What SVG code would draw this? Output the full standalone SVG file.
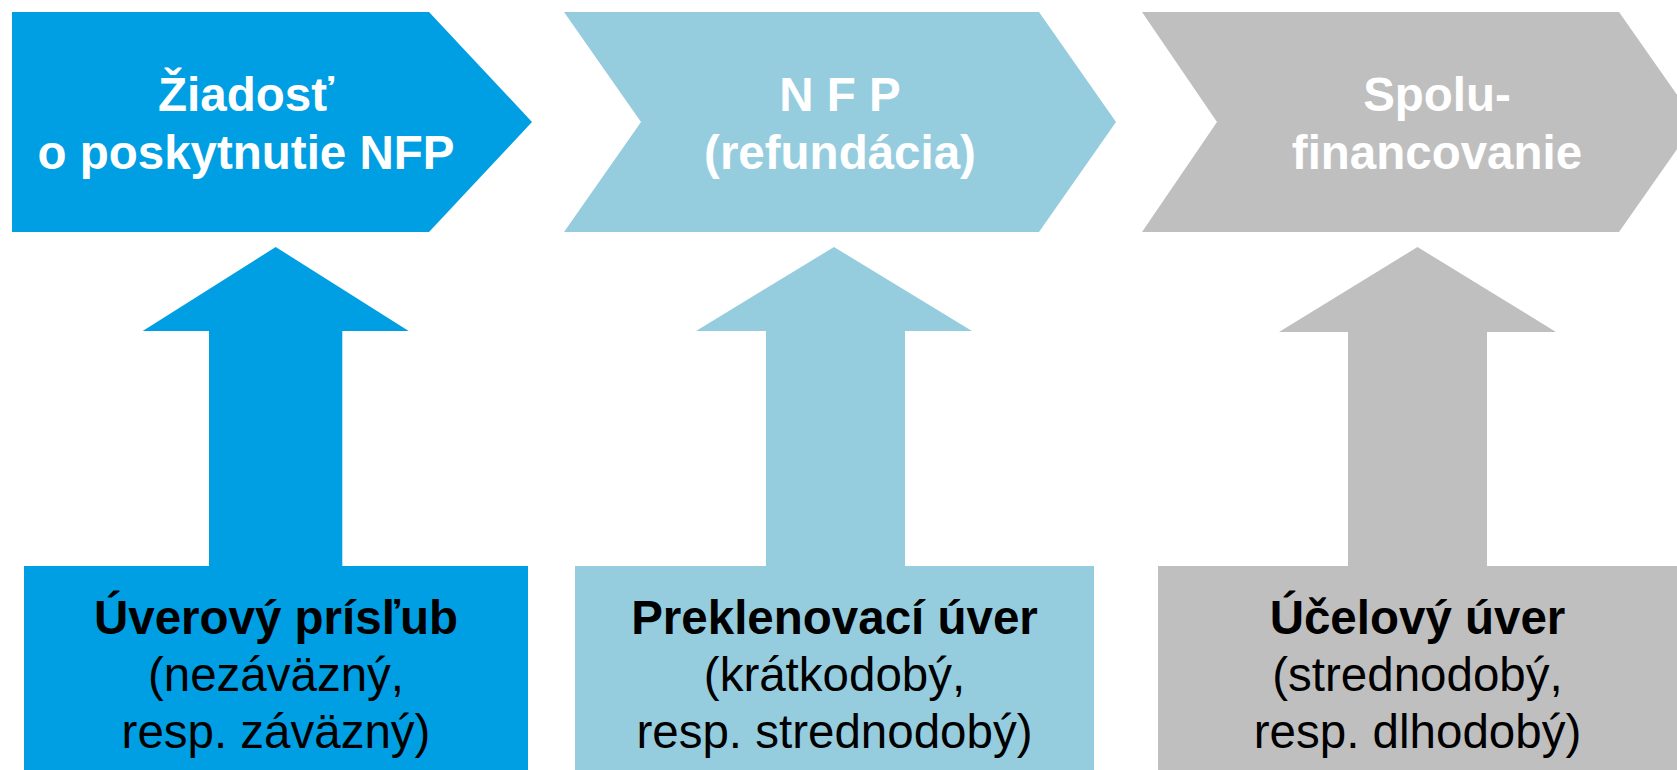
<svg xmlns="http://www.w3.org/2000/svg" width="1677" height="770" viewBox="0 0 1677 770">
<style>
  .t { font-family: "Liberation Sans", Arial, sans-serif; text-anchor: middle; }
  .head { font-size: 47.5px; font-weight: bold; fill: #FFFFFF; }
  .b { font-size: 47.5px; font-weight: bold; fill: #000000; }
  .r { font-size: 47.5px; fill: #000000; }
  .c1 { fill: #009FE3; }
  .c2 { fill: #95CDDF; }
  .c3 { fill: #BFBFBF; }
</style>
<rect x="0" y="0" width="1677" height="770" fill="#FFFFFF"/>

<g id="step1">
  <polygon class="c1" points="12,12 429,12 532,122 429,232 12,232"/>
  <text class="t head" x="246" y="111">Žiadosť</text>
  <text class="t head" x="246" y="169">o poskytnutie NFP</text>
</g>
<g id="step2">
  <polygon class="c2" points="564,12 1039,12 1116,122 1039,232 564,232 641,122"/>
  <text class="t head" x="840" y="111">N F P</text>
  <text class="t head" x="840" y="169">(refundácia)</text>
</g>
<g id="step3">
  <polygon class="c3" points="1142,12 1619,12 1696,122 1619,232 1142,232 1217,122"/>
  <text class="t head" x="1437" y="111">Spolu-</text>
  <text class="t head" x="1437" y="169">financovanie</text>
</g>

<g id="connectors">
  <polygon class="c1" points="275.7,247 408.7,331 342.3,331 342.3,567 209,567 209,331 142.7,331"/>
  <polygon class="c2" points="834,247 972,331 905,331 905,567 766,567 766,331 696,331"/>
  <polygon class="c3" points="1417.5,247 1556,332 1487,332 1487,567 1348,567 1348,332 1279,332"/>
</g>

<g id="loan1">
  <rect class="c1" x="24" y="566" width="504" height="204"/>
  <text class="t b" x="276" y="634">Úverový prísľub</text>
  <text class="t r" x="276" y="691">(nezáväzný,</text>
  <text class="t r" x="276" y="748">resp. záväzný)</text>
</g>
<g id="loan2">
  <rect class="c2" x="575" y="566" width="519" height="204"/>
  <text class="t b" x="834.5" y="634">Preklenovací úver</text>
  <text class="t r" x="834.5" y="691">(krátkodobý,</text>
  <text class="t r" x="834.5" y="748">resp. strednodobý)</text>
</g>
<g id="loan3">
  <rect class="c3" x="1158" y="566" width="519" height="204"/>
  <text class="t b" x="1417.5" y="634">Účelový úver</text>
  <text class="t r" x="1417.5" y="691">(strednodobý,</text>
  <text class="t r" x="1417.5" y="748">resp. dlhodobý)</text>
</g>
</svg>
